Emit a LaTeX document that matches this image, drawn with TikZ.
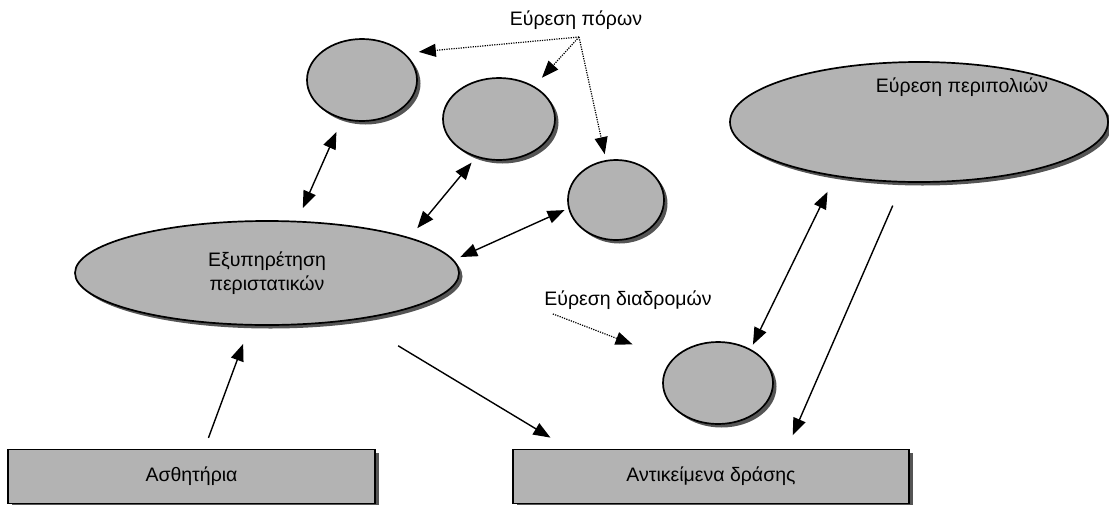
\documentclass[tikz,border=0pt]{standalone}
\usepackage{fontspec}
\setmainfont{Liberation Sans}
\usetikzlibrary{shapes.geometric,shadows,arrows.meta}

\definecolor{fillgray}{RGB}{179,179,179}
\definecolor{shadowgray}{RGB}{85,85,85}

\begin{document}
\begin{tikzpicture}[x=1pt,y=-1pt,
  every node/.style={font=\fontsize{19.5}{23.5}\selectfont},
  castshadow/.style={drop shadow={shadow xshift=3.5pt,shadow yshift=-3.5pt,fill=shadowgray,opacity=1}},
  bubble/.style={ellipse,draw=black,line width=1.7pt,fill=fillgray,inner sep=0pt,castshadow},
  panel/.style={rectangle,draw=black,line width=1.1pt,fill=fillgray,minimum height=54pt,castshadow},
  link/.style={line width=1.4pt,-{Triangle[length=17pt,width=13pt]}},
  link2/.style={line width=1.4pt,{Triangle[length=17pt,width=13pt]}-{Triangle[length=17pt,width=13pt]}},
  hint/.style={line width=1.2pt,dash pattern=on 1.2pt off 1.2pt,-{Triangle[length=17pt,width=13pt]}}
]
\useasboundingbox (0,0) rectangle (1109,504);

% resource bubbles
\node[bubble,minimum width=110pt,minimum height=82pt] (e1) at (362,80) {};
\node[bubble,minimum width=112pt,minimum height=82pt] (e2) at (499,119) {};
\node[bubble,minimum width=96pt,minimum height=80pt] (e3) at (616,200) {};
% route bubble
\node[bubble,minimum width=110pt,minimum height=82pt] (e4) at (718,383) {};

% main processes
\node[bubble,minimum width=384pt,minimum height=104pt,align=center] (big) at (267,273) {Εξυπηρέτηση\\περιστατικών};
\node[bubble,minimum width=378pt,minimum height=120pt] (pat) at (919,122) {};
\node (patlbl) at (962,87) {Εύρεση περιπολιών};

% input / output panels
\node[panel,minimum width=367pt] (sens) at (191.5,476.5) {Ασθητήρια};
\node[panel,minimum width=396pt] (act) at (711,476.5) {Αντικείμενα δράσης};

% free labels
\node (lblres) at (576,20) {Εύρεση πόρων};
\node (lblroute) at (628,300) {Εύρεση διαδρομών};
\coordinate (src) at (579,37);

% resource hints
\draw[hint,shorten >=14pt] (src) -- (e1.32.4);
\draw[hint,shorten >=11.5pt] (src) -- (e2.43.9);
\draw[hint,shorten >=6pt] (src) -- (e3.104);

% exchanges with the incident service
\draw[link2,shorten <=14pt,shorten >=14pt] (big.60) -- (e1.243);
\draw[link2,shorten <=12pt,shorten >=7pt] (big.14) -- (e2.239);
\draw[link2,shorten <=7pt,shorten >=4pt] (big.4.4) -- (e3.190);

% sensors in, actions out
\draw[link,shorten <=11.8pt,shorten >=19.5pt] (sens.65.9) -- (big.252.7);
\draw[link,shorten <=50pt,shorten >=22pt] (big.332) -- (act.169.8);

% routing and patrols
\draw[hint,shorten >=42pt] ([xshift=12pt,yshift=-1pt]lblroute.south west) -- (e4.153.1);
\draw[link2,shorten <=5pt,shorten >=17pt] (e4.46.5) -- (pat.213);
\draw[link,shorten <=25pt,shorten >=15pt] (pat.255.2) -- (act.20.2);
\end{tikzpicture}
\end{document}
